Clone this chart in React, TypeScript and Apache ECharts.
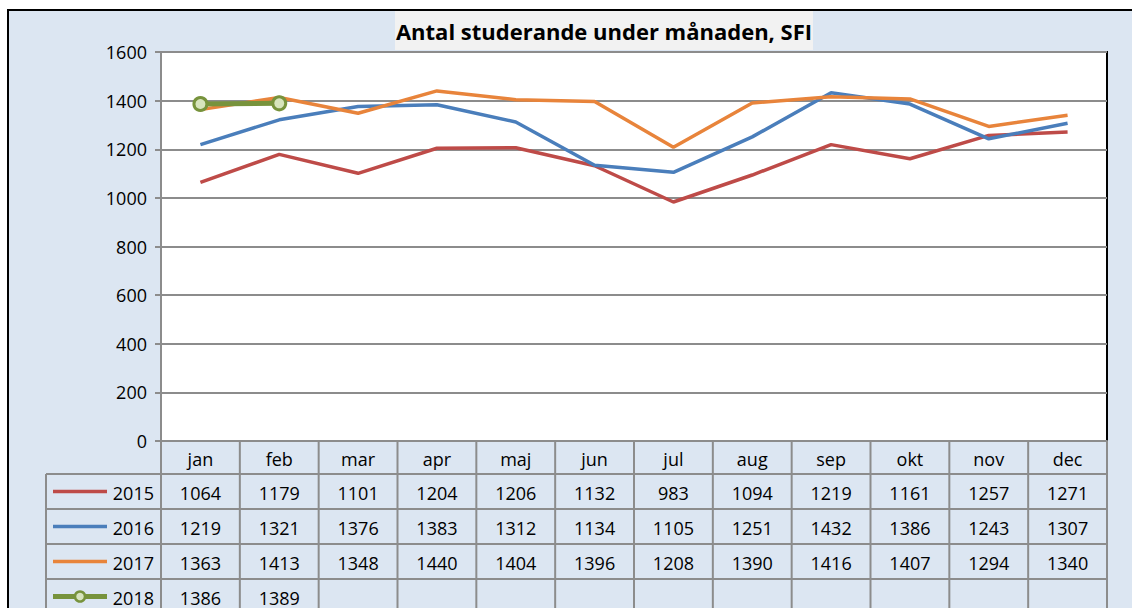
import React, { useEffect, useRef } from "react";
import * as echarts from "echarts";

const months = ["jan", "feb", "mar", "apr", "maj", "jun", "jul", "aug", "sep", "okt", "nov", "dec"];
const years = ["2015", "2016", "2017", "2018"];
const v2015 = [1064, 1179, 1101, 1204, 1206, 1132, 983, 1094, 1219, 1161, 1257, 1271];
const v2016 = [1219, 1321, 1376, 1383, 1312, 1134, 1105, 1251, 1432, 1386, 1243, 1307];
const v2017 = [1363, 1413, 1348, 1440, 1404, 1396, 1208, 1390, 1416, 1407, 1294, 1340];
const v2018: (number | null)[] = [1386, 1389, null, null, null, null, null, null, null, null, null, null];
const yTicks = [0, 200, 400, 600, 800, 1000, 1200, 1400, 1600];
const title = "Antal studerande under månaden, SFI";

const colors = ["#be4b48", "#4a7ebb", "#e8843b", "#77933c"];
const FONT = "'Open Sans', sans-serif";
const FS = 18;

export default function App() {
  const ref = useRef<HTMLDivElement>(null);
  useEffect(() => {
    document.body.style.margin = "0";
    const chart = echarts.init(ref.current!, undefined, { renderer: "svg" });
    const W = 1132;
    const H = 608;
    const pL = 161, pR = 1107, pT = 52, pB = 441;
    const colW = (pR - pL) / 12;
    const rowY = [441, 474, 509, 544, 579, 614];
    const legL = 46;
    const gridCol = "#8c8c8c";
    const allVals = [v2015, v2016, v2017, v2018];

    const g: any[] = [];
    g.push({ type: "rect", z: -10, shape: { x: 8, y: 10, width: 1300, height: 800 }, style: { fill: "#dce6f2", stroke: "#000", lineWidth: 2 } });
    g.push({ type: "rect", z: -5, shape: { x: 395, y: 11, width: 418, height: 39 }, style: { fill: "#f2f2f2" } });
    g.push({ type: "text", x: 604, y: 31, style: { text: title, fill: "#000", font: `bold 22px ${FONT}`, align: "center", verticalAlign: "middle" } });
    for (let r = 1; r < rowY.length; r++) {
      g.push({ type: "line", shape: { x1: legL, y1: rowY[r], x2: pR, y2: rowY[r] }, style: { stroke: gridCol, lineWidth: 2 } });
    }
    for (let c = 0; c <= 12; c++) {
      const x = pL + c * colW;
      g.push({ type: "line", shape: { x1: x, y1: pB, x2: x, y2: H + 10 }, style: { stroke: gridCol, lineWidth: 2 } });
    }
    g.push({ type: "line", shape: { x1: legL, y1: rowY[1], x2: legL, y2: H + 10 }, style: { stroke: gridCol, lineWidth: 2 } });
    months.forEach((m, i) => {
      g.push({ type: "text", x: pL + (i + 0.5) * colW, y: (rowY[0] + rowY[1]) / 2 + 1, style: { text: m, fill: "#000", font: `${FS}px ${FONT}`, align: "center", verticalAlign: "middle" } });
    });
    years.forEach((yr, r) => {
      const cy = (rowY[r + 1] + rowY[r + 2]) / 2 + 1;
      g.push({ type: "line", shape: { x1: 53, y1: cy - 1, x2: 107, y2: cy - 1 }, style: { stroke: colors[r], lineWidth: r === 3 ? 5 : 3.5 } });
      if (r === 3) {
        g.push({ type: "circle", shape: { cx: 80, cy: cy - 1, r: 5 }, style: { fill: "#d7e4bd", stroke: colors[3], lineWidth: 2.5 } });
      }
      g.push({ type: "text", x: 154, y: cy, style: { text: yr, fill: "#000", font: `${FS}px ${FONT}`, align: "right", verticalAlign: "middle" } });
      allVals[r].forEach((v, i) => {
        if (v == null) return;
        g.push({ type: "text", x: pL + (i + 0.5) * colW, y: cy, style: { text: String(v), fill: "#000", font: `${FS}px ${FONT}`, align: "center", verticalAlign: "middle" } });
      });
    });

    chart.setOption({
      animation: false,
      backgroundColor: "#ffffff",
      grid: { left: pL, right: W - pR, top: pT, bottom: H - pB, show: true, backgroundColor: "#ffffff", borderColor: "#000", borderWidth: 2 },
      xAxis: {
        type: "category",
        data: months,
        boundaryGap: true,
        axisLine: { show: true, lineStyle: { color: gridCol, width: 2 } },
        axisTick: { show: false },
        axisLabel: { show: false },
        splitLine: { show: false },
      },
      yAxis: {
        type: "value",
        min: yTicks[0],
        max: yTicks[yTicks.length - 1],
        interval: 200,
        axisLine: { show: true, lineStyle: { color: gridCol, width: 2 } },
        axisTick: { show: true, length: 6, lineStyle: { color: gridCol, width: 2 } },
        axisLabel: { color: "#000", fontSize: FS, fontFamily: FONT, margin: 14, formatter: (v: number) => String(v) },
        splitLine: { show: true, lineStyle: { color: gridCol, width: 2 } },
      },
      series: [
        ...[v2015, v2016, v2017].map((d, i) => ({
          name: years[i],
          type: "line",
          data: d,
          symbol: "none",
          lineStyle: { color: colors[i], width: 3.5 },
          itemStyle: { color: colors[i] },
        })),
        {
          name: years[3],
          type: "line",
          data: v2018,
          symbol: "circle",
          symbolSize: 13,
          lineStyle: { color: colors[3], width: 5 },
          itemStyle: { color: "#d7e4bd", borderColor: colors[3], borderWidth: 3 },
        },
      ],
      graphic: g,
    });
    return () => chart.dispose();
  }, []);
  return <div ref={ref} style={{ width: 1132, height: 608 }} />;
}
